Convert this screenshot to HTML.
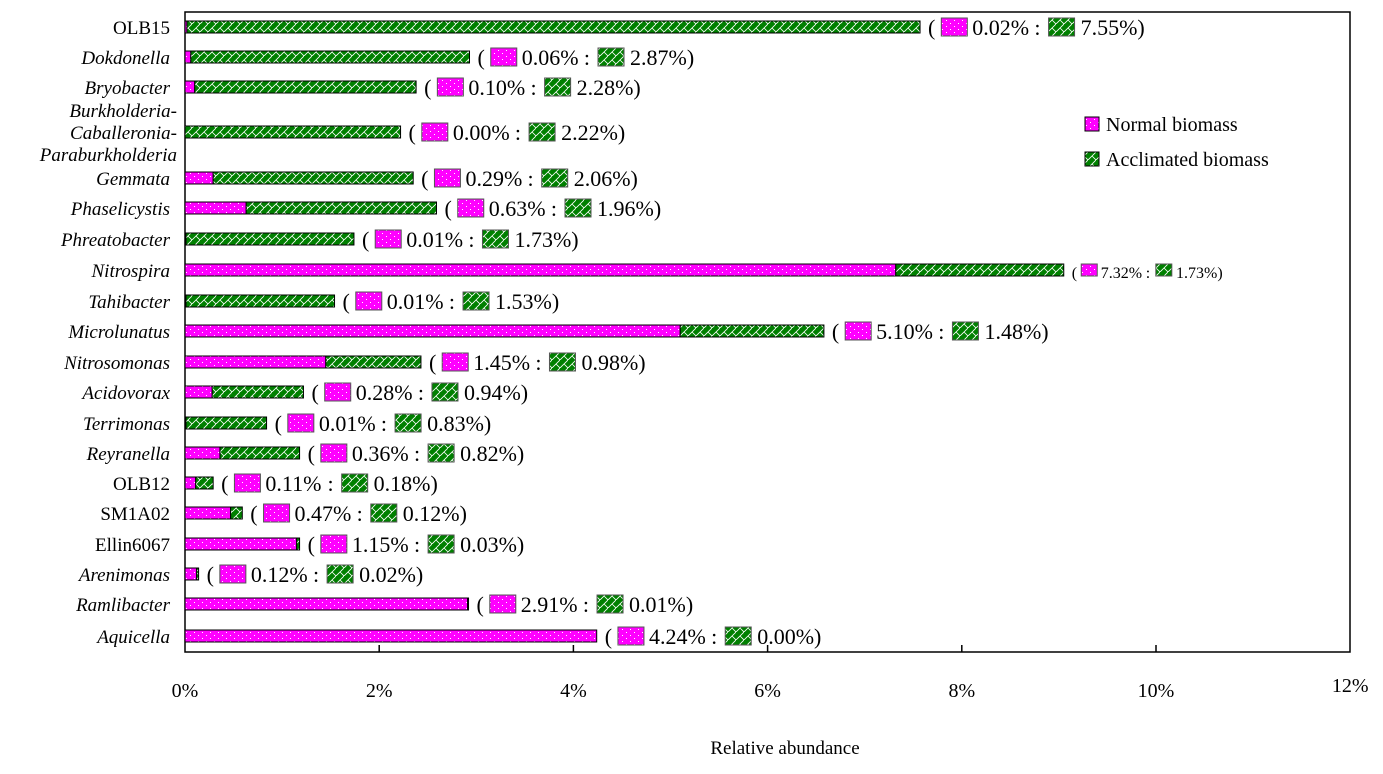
<!DOCTYPE html>
<html><head><meta charset="utf-8"><style>
body{margin:0;background:#fff;}
svg{display:block;font-family:"Liberation Serif",serif;}
</style></head><body>
<svg id="c" width="1383" height="774">
<defs>
<pattern id="pDot" width="8" height="6" patternUnits="userSpaceOnUse"><rect width="8" height="6" fill="#ff00ff"/><rect x="2" y="2" width="1" height="1" fill="#fff"/><rect x="6" y="5" width="1" height="1" fill="#fff"/></pattern>
<pattern id="pHatch" width="8" height="8" patternUnits="userSpaceOnUse"><rect width="8" height="8" fill="#008000"/><path d="M0 8 L8 0 M4 4 L8 8" stroke="#fff" stroke-width="0.8"/></pattern>
</defs>
<rect x="185" y="12" width="1165" height="640" fill="none" stroke="#000" stroke-width="1.5"/>
<g id="ticks"></g>
<g id="bars"></g>
<g id="legend">
<rect x="1085" y="117" width="14" height="14" fill="url(#pDot)" stroke="#000"/>
<text x="1106" y="131" font-size="20">Normal biomass</text>
<rect x="1085" y="152" width="14" height="14" fill="url(#pHatch)" stroke="#000"/>
<text x="1106" y="166" font-size="20">Acclimated biomass</text>
</g>
<text x="785" y="754" font-size="19" text-anchor="middle">Relative abundance</text>
</svg>
<script>
const categories=["OLB15","Dokdonella","Bryobacter","Burkholderia-Caballeronia-Paraburkholderia","Gemmata","Phaselicystis","Phreatobacter","Nitrospira","Tahibacter","Microlunatus","Nitrosomonas","Acidovorax","Terrimonas","Reyranella","OLB12","SM1A02","Ellin6067","Arenimonas","Ramlibacter","Aquicella"];
const italic=[false,true,true,true,true,true,true,true,true,true,true,true,true,true,false,false,false,true,true,true];
const normal=[0.02,0.06,0.10,0.00,0.29,0.63,0.01,7.32,0.01,5.10,1.45,0.28,0.01,0.36,0.11,0.47,1.15,0.12,2.91,4.24];
const acclimated=[7.55,2.87,2.28,2.22,2.06,1.96,1.73,1.73,1.53,1.48,0.98,0.94,0.83,0.82,0.18,0.12,0.03,0.02,0.01,0.00];
const tickLabels=["0%","2%","4%","6%","8%","10%","12%"];
const tickValues=[0,2,4,6,8,10,12];
const rowY=[27,57,87,132,178,208,239,270,301,331,362,392,423,453,483,513,544,574,604,636];
const NS="http://www.w3.org/2000/svg";
const x=v=>185+v*97.1;
function mk(t,a,p){const e=document.createElementNS(NS,t);for(const k in a)e.setAttribute(k,a[k]);p.appendChild(e);return e;}
const tg=document.getElementById('ticks');
tickValues.forEach((v,i)=>{
 if(v>0&&v<12){const l=mk('line',{x1:x(v),x2:x(v),y1:652,y2:645,stroke:'#000','stroke-width':1.5},tg);
 
 }
 const t=mk('text',{x:x(v),y:v===12?692:697,'font-size':20,'text-anchor':'middle'},tg);t.textContent=tickLabels[i];
 
 
});
const bg=document.getElementById('bars');
categories.forEach((c,i)=>{
 const y=rowY[i],h=12,g=mk('g',{},bg);
 
 
 if(c.includes('-')){
  const parts=["Burkholderia-","Caballeronia-","Paraburkholderia"];
  parts.forEach((p,k)=>{const t=mk('text',{x:177,y:y-15+k*22,'font-size':19,'text-anchor':'end','font-style':'italic'},g);t.textContent=p;
  
  });
 } else {
  const t=mk('text',{x:170,y:y+7,'font-size':19,'text-anchor':'end','font-style':italic[i]?'italic':'normal'},g);t.textContent=c;
  
  
 }
 const n=normal[i],a=acclimated[i];
 if(n>0){const r=mk('rect',{x:x(0),y:y-h/2,width:x(n)-x(0),height:h,fill:'url(#pDot)',stroke:'#000','stroke-width':1},g);
 
 }
 if(a>0){const r=mk('rect',{x:x(n),y:y-h/2,width:x(n+a)-x(n),height:h,fill:'url(#pHatch)',stroke:'#000','stroke-width':1},g);
 
 }
 const small=(i===7);const fs=small?16:22,bw=small?16:26,bh=small?12:18,k=small?0.7:1;
 let cx=x(n+a)+8;
 const t1=mk('text',{x:cx,y:y+8,'font-size':fs},g);t1.textContent='(';cx+=fs*0.33+6*k;
 mk('rect',{x:cx,y:y-bh/2,width:bw,height:bh,fill:'url(#pDot)',stroke:'#555'},g);cx+=bw+5*k;
 const t2=mk('text',{x:cx,y:y+8,'font-size':fs},g);t2.textContent=n.toFixed(2)+'%';cx+=fs*2.55+6*k;
 const t2b=mk('text',{x:cx,y:y+8,'font-size':fs},g);t2b.textContent=':';cx+=fs*0.28+8*k;
 mk('rect',{x:cx,y:y-bh/2,width:bw,height:bh,fill:'url(#pHatch)',stroke:'#555'},g);cx+=bw+6*k;
 const t3=mk('text',{x:cx,y:y+8,'font-size':fs},g);t3.textContent=a.toFixed(2)+'%)';
 
 
});
</script>
</body></html>
